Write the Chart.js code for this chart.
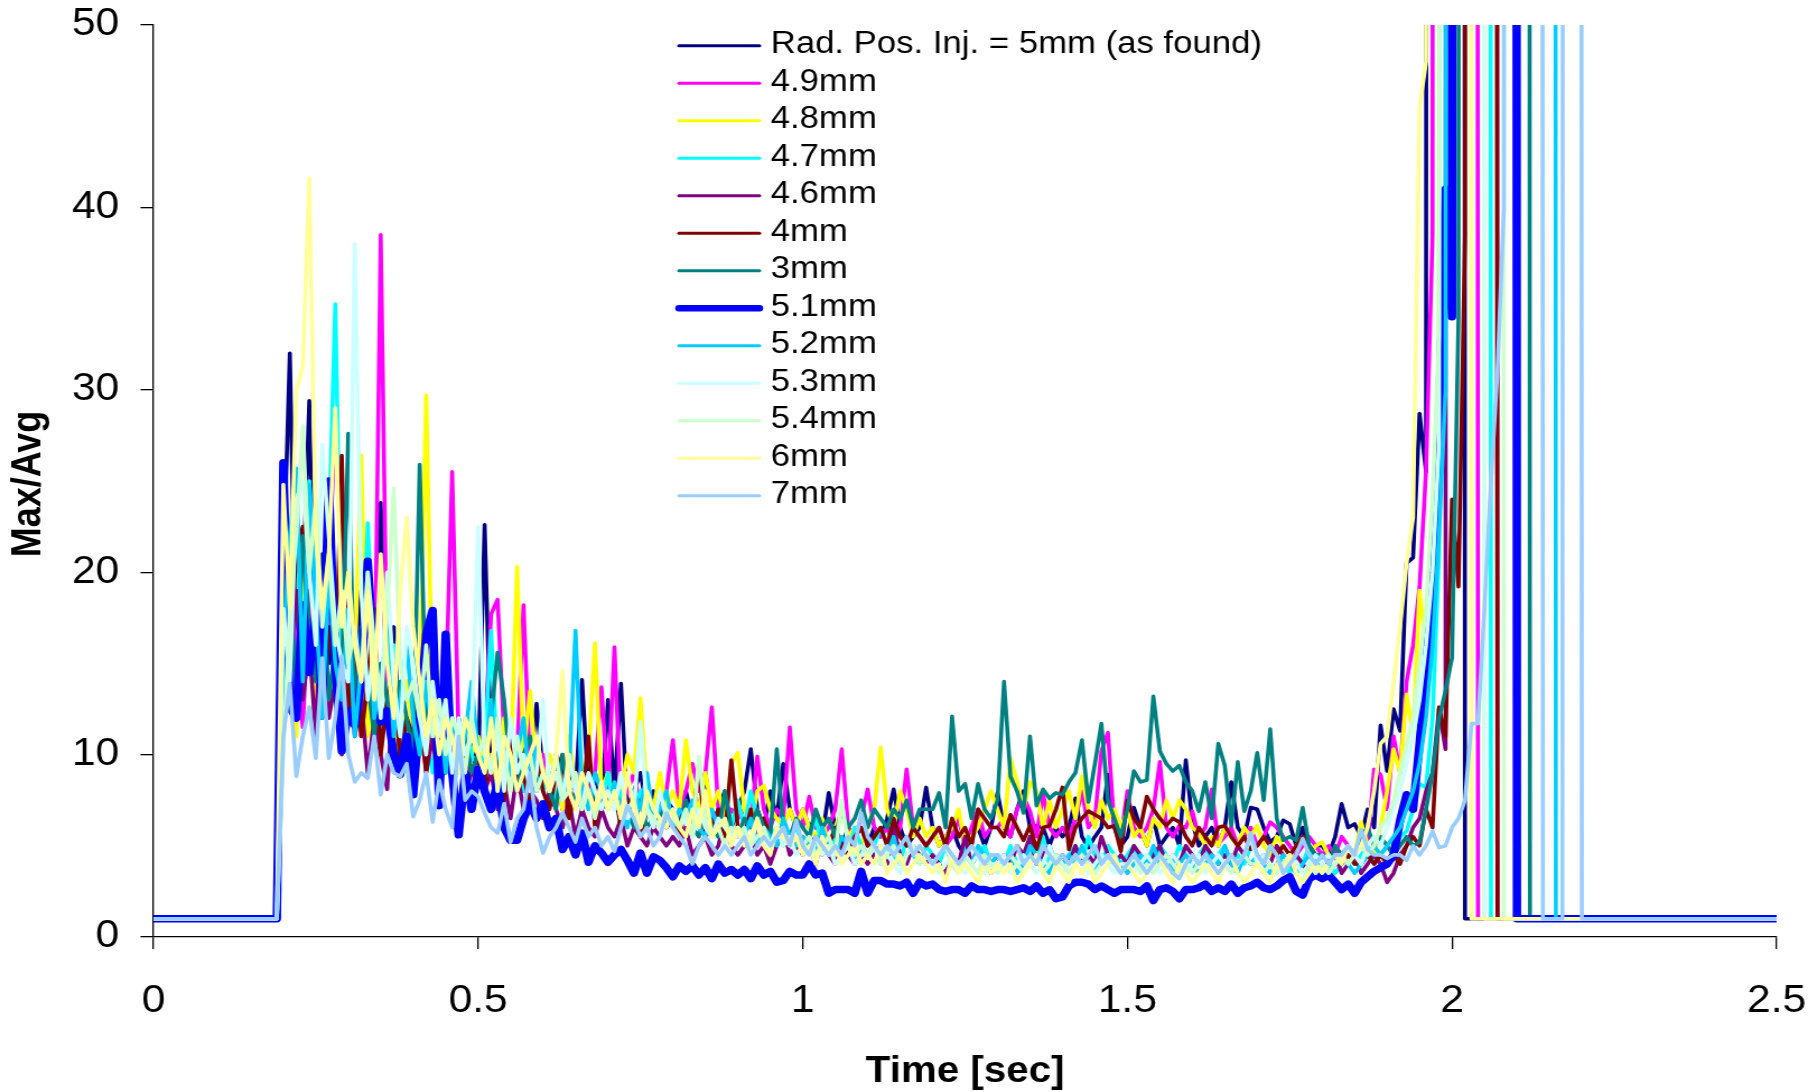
<!DOCTYPE html>
<html lang="en">
<head>
  <meta charset="UTF-8" />
  <title>Max/Avg vs Time</title>
  <script src="https://cdn.jsdelivr.net/npm/chart.js"></script>
  <style>
    html, body { margin: 0; padding: 0; background: #fff; overflow: hidden; }
    /* drawn narrow, then widened the way the exported sheet chart was */
    #wrap {
      width: 1623px;
      height: 1092px;
      transform: scaleX(1.1202);
      transform-origin: 0 0;
    }
  </style>
</head>
<body>
  <div id="wrap"><canvas id="chart" width="1623" height="1092"></canvas></div>

  <script>
    // samples start at 0.20 s, one every 0.01 s; before and after the run the ratio sits at 1
    const START = 0.2;
    const STEP = 0.01;
    const BASE = 1;
    const OFF = 1000; // far above the 50 ceiling

    const xTicks = { min: 0, max: 2.5, step: 0.5 };
    const yTicks = { min: 0, max: 50, step: 10 };
    const xTitle = 'Time [sec]';
    const yTitle = 'Max/Avg';

    const seriesLabels = [
      'Rad. Pos. Inj. = 5mm (as found)', '4.9mm', '4.8mm', '4.7mm', '4.6mm', '4mm', '3mm',
      '5.1mm', '5.2mm', '5.3mm', '5.4mm', '6mm', '7mm'
    ];

    const asFound = [
      20, 32, 14, 19, 29.4, 13, 21, 15, 18, 13,
      16, 14, 19, 12, 15, 23.8, 13, 17, 11, 14,
      12, 15, 11, 17, 10, 13, 9, 12, 10, 11,
      9, 22.6, 10, 8, 11, 9, 10, 8, 9, 12.8,
      9, 8, 10, 7, 9, 8, 14.1, 8, 9, 7,
      13, 8, 13.9, 7, 8, 9, 7, 8, 6.5, 7.5,
      7, 6, 8, 6.5, 7, 9, 6, 7, 8, 6,
      7, 8, 10.3, 7, 6, 8, 6.5, 9.5, 7, 6,
      7, 6, 6.5, 5.5, 7.9, 6, 5, 6, 5.5, 6,
      5, 6, 5.5, 6.5, 8.1, 6, 5, 5.5, 6, 8.2,
      6, 5, 5.5, 6, 5, 4.5, 5.5, 6, 5, 6,
      7.9, 6, 5.5, 7, 8, 6, 6.1, 6, 5, 6,
      5.5, 6, 7.6, 5.5, 4.9, 5.5, 6, 8.9, 6, 5,
      5.5, 7.1, 6, 5, 6.5, 5, 5.5, 6, 5, 9.7,
      6.3, 5, 5.5, 6, 5, 6, 8.5, 6, 5.5, 7.1,
      7, 6, 5.2, 5.5, 6.4, 6.2, 5, 6, 4.5, 5,
      5, 4.5, 5.5, 7.3, 6, 6.2, 5.5, 7, 6, 11.6,
      9.1, 12.5, 11.3, 20.5, 20.8, 28.7, 25.5, OFF, OFF, OFF,
      OFF, OFF, 1
    ];

    const mm4_9 = [
      14, 22.5, 15, 11.5, 19, 14, 12, 20, 28.3, 22,
      13, 17, 11, 15, 12, 38.5, 14, 11, 13, 10,
      12, 10, 14, 11, 9, 13, 25.5, 11, 9, 10,
      9, 11, 17.7, 18.5, 11, 9, 10, 18.2, 9, 8,
      10, 8, 9, 7, 8, 9, 7.5, 8, 9, 13.7,
      8, 15.9, 7, 8, 9, 7, 8, 6.5, 7, 8,
      10.8, 7, 8, 9.5, 8, 9, 12.6, 7, 6.5, 7,
      6.5, 7, 6, 9.9, 7, 6, 7, 6.5, 11.5, 7,
      6, 7.7, 6, 5.5, 6, 7, 10.3, 6, 5.5, 6.5,
      8.1, 6, 5.5, 6, 5, 6, 9.2, 6, 5.5, 5,
      5.5, 6, 5, 5.5, 6.5, 5, 6, 7, 5.5, 6,
      6, 6.5, 5.5, 7, 7.7, 6.9, 5.5, 7.9, 6, 5.5,
      6, 5.5, 6.5, 8, 6, 6.5, 10.2, 11.2, 6, 5.5,
      8, 6, 5.5, 6, 7, 9.6, 6, 5.5, 6.1, 6,
      6.9, 5.5, 6, 8.1, 5.1, 5.5, 6, 5, 5.5, 6,
      5, 5.5, 6.3, 6, 5.5, 5, 4.5, 5, 5.5, 5,
      4.5, 5, 4.5, 5.5, 5, 4.5, 6, 5, 9.2, 8.9,
      7, 11, 9, 14, 16, 19.2, 25.6, 38.5, OFF, OFF,
      OFF, OFF, OFF, OFF, 1
    ];

    const mm4_8 = [
      17, 14, 11, 20, 16, 13, 18, 12, 15, 14,
      12, 15, 26.4, 11, 14, 10, 13, 12, 10, 14,
      11, 13, 29.7, 12, 10, 13, 11, 9, 12, 10,
      11, 9, 10, 8, 12, 9, 20.3, 10, 13.5, 9,
      8, 10, 9, 7, 11, 8, 9, 10, 16.1, 8,
      9, 7, 8, 10, 9, 13.1, 8, 7, 9, 7,
      8, 7, 10.8, 8, 7, 9, 7, 8, 6.5, 9.5,
      10.1, 7, 6, 8, 8.3, 7, 6.5, 6, 7, 6,
      7, 6, 5.5, 6.5, 5, 6, 7, 5.5, 6, 5,
      6, 7, 10.4, 7, 6, 8, 7, 5.5, 6.5, 5.5,
      6, 5, 5.5, 6, 7, 5, 5.5, 6, 7, 8,
      7, 6, 9.8, 8.5, 7, 8.5, 8, 6, 7.5, 6,
      7, 8, 6.5, 8.8, 7, 6, 7.5, 6.5, 7, 6,
      7, 5.5, 6, 5, 6.5, 6, 7.5, 6.5, 7.5, 7,
      6, 5.7, 5, 5.5, 5, 6, 5.5, 5, 6, 5.5,
      6.1, 5, 4.5, 5.5, 5, 4.5, 5, 5.5, 4.5, 5,
      5.2, 4.5, 4, 4.5, 4, 4.5, 6.3, 5, 4.5, 6,
      8, 10.3, 9, 13.3, 11, 19, 15.7, 22, 32, OFF,
      OFF, OFF, OFF, OFF, OFF, 1
    ];

    const mm4_7 = [
      13, 18, 22, 15, 25, 18, 16, 22, 34.7, 16,
      12, 15, 13, 22.7, 14, 11, 13, 16, 11, 12,
      10, 13, 11, 9, 12, 10, 11, 9, 12, 10,
      9, 10, 16.8, 9, 8, 11, 9, 8, 10, 9,
      8, 9, 7.5, 8, 10, 8, 7, 9, 8, 7,
      9, 7, 8, 6.5, 7, 8, 7.5, 6, 7, 6.5,
      7, 6, 6.5, 7, 6, 7.5, 6, 5.5, 6.5, 6,
      7.5, 6, 8, 6.5, 6, 5.5, 6, 5, 5.5, 6,
      5, 5.5, 6.5, 5, 4.5, 5.5, 5, 4.5, 6, 5,
      4.5, 5, 6, 5, 4.5, 4, 5.5, 4.5, 4, 5,
      4.5, 4, 5, 4.5, 4, 5, 4, 4.5, 5, 4,
      4.5, 4, 5, 4, 4.5, 5, 4, 5.5, 4, 4.5,
      4, 4.5, 5, 4, 5.5, 4.5, 4, 5, 4.5, 4,
      4.5, 5, 4, 4.5, 4, 5, 4.5, 4, 5, 4.5,
      4, 4.5, 5, 4, 4.5, 5, 4, 4.5, 4, 5,
      4.5, 4, 5, 4.5, 4, 3.5, 4.5, 4, 5, 4,
      4.5, 4, 3.5, 4, 4.5, 4, 4.5, 5, 4, 4.5,
      5, 4.5, 5.5, 5.8, 7, 8.4, 8.2, 12, 21, OFF,
      OFF, OFF, OFF, OFF, OFF, OFF, 1
    ];

    const mm4_6 = [
      12, 15, 19, 13, 16, 11, 20, 12, 14, 10,
      15, 11, 13, 9, 12, 10, 8.1, 14, 10, 11,
      10, 12, 9, 11, 8, 10, 9, 11, 8, 9,
      10, 8, 9, 7, 8.5, 6.5, 9, 7, 8, 7.5,
      6.5, 8, 7, 6, 7.5, 5.5, 7, 6, 5.5, 7,
      6, 5.5, 6.5, 5, 6, 5.5, 5, 6, 5.5, 5,
      5.5, 5, 6, 4.5, 5, 5.5, 4.5, 5, 6.5, 5,
      4.5, 5, 5.5, 4.5, 5, 4, 5, 6, 4.5, 5,
      4.5, 5, 4, 5.5, 4.5, 4, 5, 4.5, 4, 4.5,
      4, 4.5, 5, 4, 6, 4.5, 4, 5, 4.5, 4,
      4.5, 4, 3.5, 4.5, 4, 5.5, 4, 4.5, 4, 3.5,
      4, 4.5, 4, 5, 4.5, 5.5, 4, 4.5, 5, 4,
      4.5, 4, 5, 4, 4.5, 4, 5.5, 4.5, 4, 4.5,
      4, 5, 4.5, 4, 4.5, 5, 4, 4.5, 4, 5,
      4.5, 4, 5, 4.5, 4, 4.5, 4, 5, 4.5, 4,
      4, 4.5, 4, 5, 4.5, 4, 4.5, 4, 3.5, 4,
      4.5, 4, 4.5, 3.5, 4, 4.5, 3.5, 4, 4.5, 4,
      3, 3.5, 4.5, 5, 6, 6.5, 8, 9, 12.5, 10.3,
      OFF, OFF, OFF, OFF, OFF, OFF, OFF, 1
    ];

    const mm4 = [
      11, 16, 21, 22.5, 15, 19, 12, 17, 14, 26.4,
      12, 16, 11, 14, 18, 10, 13, 15, 9.5, 12,
      11, 13, 9, 16, 10, 12, 8.5, 11, 10, 9,
      10, 8, 12, 9, 7.5, 11, 8, 9, 7, 10,
      8, 7, 9, 10, 6.5, 8, 7, 11, 6, 8,
      7, 8, 6, 7.5, 6.5, 5.5, 7, 6, 7.5, 6,
      6.5, 5.5, 7, 6, 9.5, 5.5, 6, 7, 5.5, 9.7,
      6, 5.5, 7, 5, 6.5, 5.5, 5, 6, 5.5, 5,
      5.5, 5, 5.5, 4.5, 5, 6, 5, 4.5, 5.5, 6,
      5, 5.5, 6, 5, 6.5, 5.5, 5, 6, 5.5, 5,
      5.5, 6, 5, 6.5, 5.5, 6, 5, 7, 6.5, 6,
      6, 5.5, 6.7, 6, 5.3, 6.1, 4.8, 6, 6.1, 7,
      8.2, 4.8, 6, 6.5, 6.9, 6.7, 6.5, 6, 6.1, 4.7,
      7.5, 6.5, 6, 7.7, 7, 6.5, 6.1, 6.5, 6.3, 5.5,
      5, 6, 5.5, 5, 6, 6.1, 5.5, 5, 5.5, 4.8,
      5, 5.5, 5, 4.5, 5, 4.5, 5, 5.5, 5, 4.5,
      4.5, 4, 4.5, 4, 4.5, 4, 4, 4.5, 4, 4.5,
      4, 4.5, 4, 5, 5.5, 5, 7, 6, 12.6, 11,
      24, 19.2, 38.4, OFF, OFF, OFF, OFF, 1
    ];

    const mm3 = [
      15, 20, 13, 22, 17, 14, 20, 13, 16, 14,
      27.6, 12, 17, 14, 11, 15, 13, 11, 14, 12,
      10, 25.9, 12, 11, 13, 9, 12, 10, 11, 9,
      10, 9, 12, 15.6, 13, 9, 8, 10, 11, 8,
      9, 8, 7, 10, 8, 7.5, 9, 7, 8, 7,
      7.5, 8, 6.5, 7, 6, 7.5, 6, 6.5, 7, 6,
      6.5, 6, 7.5, 6, 5.5, 7, 6, 5.5, 8, 6,
      5.5, 6.5, 6, 7, 6, 5.5, 10.3, 6, 5.5, 6.5,
      6, 5.5, 7, 6, 6.5, 5.5, 7, 6, 6.5, 7.5,
      6, 7, 6.5, 6, 7, 6.5, 7.5, 6, 7, 7,
      7, 7.9, 6, 12.1, 8, 8.4, 6.5, 8.4, 7, 6.5,
      7.5, 14, 8.8, 8, 6.8, 11, 7.2, 8.1, 7.6, 7.9,
      7.8, 8.5, 9, 10.8, 7.4, 9.5, 11.7, 7.5, 6.5, 5.5,
      7, 9.1, 8.5, 8.6, 13.2, 10.2, 9.5, 9.1, 9.4, 8.5,
      8, 6.9, 8.5, 6.5, 10.6, 9.4, 6.1, 9.6, 6.9, 8,
      10.1, 7.5, 11.4, 6.5, 5.3, 5.5, 5.3, 7.1, 5, 4.5,
      4.5, 4, 5, 4.5, 5, 4.5, 5.5, 6, 5, 5.5,
      5, 4.5, 5, 5.5, 5, 5.2, 7, 9, 12, 13.5,
      15.3, 34, OFF, OFF, OFF, OFF, OFF, OFF, OFF, OFF,
      OFF, OFF, 1
    ];

    const mm5_1 = [
      26, 12.6, 12, 18.2, 14.5, 17.8, 13, 25, 15, 10.2,
      12.4, 11.6, 14, 20.6, 15, 11.8, 12.4, 10, 8.9, 11,
      7.8, 12, 16.6, 17.9, 7.2, 16.6, 9, 5.6, 9, 7,
      9.2, 8, 7, 8.5, 6, 5.3, 5.3, 6.5, 7.3, 6.5,
      7.3, 6, 6.5, 4.8, 5.5, 4.5, 5.7, 4.1, 5, 4.6,
      4.1, 4.5, 4.8, 4.2, 3.5, 4.6, 3.5, 4.4, 4.2, 3.8,
      3.3, 3.9, 3.6, 3.9, 3.4, 3.8, 3.2, 4, 3.5, 3.7,
      3.4, 3.7, 3.2, 3.9, 3.4, 3.6, 3, 3.1, 3.6, 3.4,
      3.4, 4, 3.4, 3.5, 2.4, 2.6, 2.6, 2.6, 2.4, 3.6,
      2.4, 3.1, 3.1, 2.9, 2.9, 2.8, 3, 2.4, 3, 2.8,
      2.9, 2.6, 2.5, 2.6, 2.6, 2.4, 2.8, 2.6, 2.6, 2.5,
      2.6, 2.6, 2.5, 2.6, 2.7, 2.5, 2.8, 2.4, 2.6, 2.1,
      2.2, 2.8, 3, 3, 2.9, 2.6, 2.8, 2.6, 2.4, 2.6,
      2.6, 2.6, 2.5, 2.8, 2, 2.6, 2.7, 2.5, 2.1, 2.6,
      2.6, 2.7, 2.9, 2.5, 2.7, 2.5, 2.9, 2.4, 2.7, 2.8,
      3, 2.7, 2.6, 2.8, 3.1, 3.3, 2.5, 2.3, 3.2, 3.4,
      3.2, 3.4, 3, 2.6, 2.9, 2.4, 3, 3.3, 3.6, 3.8,
      4, 4.5, 6.4, 7.8, 7, 10.6, 14.6, 20, 28.4, 41,
      34, OFF, OFF, OFF, OFF, OFF, OFF, OFF, OFF, OFF,
      1
    ];

    const mm5_2 = [
      16, 22, 25.7, 14, 24.8, 18, 12, 20, 15, 13,
      18, 11, 15, 20, 12, 14, 17, 11, 13, 16,
      12, 10, 14, 11, 13, 9, 12, 10, 11, 14,
      10, 9, 13, 8, 11, 9, 10, 12, 8, 11,
      9, 8, 10, 7.5, 9, 16.8, 8, 7, 9, 8,
      7, 8.5, 7, 6, 8, 7, 9, 6.5, 7, 8,
      6, 7, 6.5, 7.5, 6, 5.5, 7, 6, 6.5, 5.5,
      6, 5.5, 6.5, 5, 6, 5.5, 5, 6.5, 5.5, 5,
      5.5, 5, 4.5, 6, 5, 4.5, 5.5, 5, 4, 5,
      4.5, 5, 4, 4.5, 5.5, 4, 4.5, 5, 4, 4.5,
      4, 4.5, 5, 4, 3.5, 4.5, 4, 5, 4.5, 4,
      4.5, 4, 4.5, 3.5, 4, 5, 4.5, 4, 3.5, 4.5,
      4, 4.5, 4, 5, 4, 3.5, 4.5, 4, 4.5, 4,
      3.5, 4, 4.5, 4, 5, 4, 4.5, 3.5, 4, 4.5,
      4, 3.5, 4, 4.5, 4, 5, 4, 3.5, 4.5, 4,
      4.5, 4, 3.5, 4, 4.5, 4, 3.5, 4, 4.5, 4,
      4, 3.5, 4, 4.5, 4, 3.5, 4, 4.5, 5, 4.5,
      5, 5.5, 6, 7, 8, 9.5, 12, 16, 22, 30,
      OFF, OFF, OFF, OFF, OFF, OFF, OFF, OFF, OFF, OFF,
      OFF, OFF, OFF, OFF, OFF, OFF, 1
    ];

    const mm5_3 = [
      18, 14, 24, 25, 20, 16, 27, 22, 17, 15,
      14, 38, 19, 13, 16, 12, 20, 14, 11, 17,
      15, 12, 10, 14, 11, 13, 9, 12, 10, 11,
      22.5, 10, 9, 11, 8, 12, 9, 10, 8, 9,
      13, 8, 9, 7.5, 10, 8, 7, 9, 8, 7,
      8, 7, 9, 6.5, 7, 11.8, 7, 6, 8, 6.5,
      7, 6, 6.5, 5.5, 7, 6, 5.5, 6.5, 6, 5.5,
      6, 5.5, 5, 6.5, 5.5, 5, 6, 5, 5.5, 4.5,
      5, 4.5, 5.5, 4.5, 5, 4, 4.5, 5, 4, 4.5,
      4.5, 4, 5, 4.5, 4, 3.5, 4.5, 5, 4, 4.5,
      4, 3.5, 4, 4.5, 4, 3.5, 4, 4.5, 3.5, 4,
      4, 4.5, 3.5, 4, 4.5, 4, 3.5, 4, 5, 4,
      3.5, 4, 4.5, 4, 3.5, 4, 4.5, 4, 3.5, 4,
      4, 3.5, 4, 4.5, 4, 3.5, 4, 4.5, 4, 3.5,
      4, 4.5, 3.5, 4, 4.5, 4, 3.5, 4, 4.5, 5.5,
      4, 4.5, 4, 3.5, 4, 4.5, 4, 3.5, 4, 4.5,
      4, 4.5, 4, 4.5, 5, 4.5, 4, 5, 5.5, 5,
      6, 7, 8, 9.5, 11, 13, 16, 20, 27, OFF,
      OFF, OFF, OFF, OFF, OFF, 1
    ];

    const mm5_4 = [
      10, 18, 22, 28, 20, 24, 17, 21, 16, 19,
      15, 17, 14, 20, 16, 13, 18, 24.6, 15, 13,
      14, 12, 16, 11, 13, 10, 12, 11, 9, 12,
      10, 11, 9, 12, 10, 8, 11, 9, 10, 8,
      9, 8, 10, 7.5, 8, 9, 7, 8, 6.5, 8,
      7, 8, 6.5, 7, 7.5, 6, 7, 6.5, 6, 7,
      6.5, 6, 7, 5.5, 9.9, 6.5, 5.5, 6, 5, 6,
      5.5, 6, 5, 5.5, 6, 5, 5.5, 6, 5, 5.5,
      5, 5.5, 4.5, 5, 5.5, 4.5, 7.5, 5, 4.5, 5,
      4.5, 5, 4, 4.5, 5, 4, 4.5, 5, 4, 4.5,
      4, 4.5, 5, 4, 3.5, 4.5, 4, 3.5, 4.5, 4,
      3.5, 4, 4.5, 4, 3.5, 4, 4.5, 3.5, 4, 4.5,
      4, 3.5, 4, 4.5, 4, 3.5, 4, 4.5, 4, 3.5,
      4, 4.5, 3.5, 4, 3.5, 4, 4.5, 4, 3.5, 4,
      3.5, 4, 4.5, 4, 3.5, 4, 3.5, 4, 4.5, 4,
      4, 3.5, 4, 3.5, 4, 4.5, 3.5, 3, 4, 3.5,
      4, 3.5, 4, 4.5, 4, 4.5, 5, 4.5, 5, 6,
      6.5, 7.5, 9, 10.5, 12.1, 15, 18, 24, 33, OFF,
      OFF, OFF, OFF, OFF, OFF, OFF, OFF, OFF, 1
    ];

    const mm6 = [
      24.8, 18, 30, 31.3, 41.6, 22, 18, 21, 29, 17,
      20, 16, 14, 19, 13, 21, 15, 12, 19, 23,
      17, 14, 11, 13, 10, 12, 11, 9, 12, 11,
      10, 9, 12, 8, 11, 10, 8, 9, 10, 11,
      9, 8, 10, 14.6, 8, 7, 9, 8, 7, 8.5,
      7, 8, 6.5, 9, 7, 6, 8, 7, 6.5, 6,
      7, 6, 5.5, 7, 6, 8, 5.5, 6, 6.5, 5,
      6, 5, 5.5, 6.5, 5, 4.5, 6, 5.5, 5, 5.5,
      4.5, 5, 4, 5.5, 4.5, 5, 4, 4.5, 5, 4,
      4.5, 4, 5, 3.5, 4, 4.5, 3.5, 4, 4.5, 4,
      3.5, 4, 3, 4.5, 3.5, 4, 3.5, 3, 4, 3.5,
      4, 3.5, 4, 3, 3.5, 4, 4.5, 3.5, 3, 4,
      3.5, 3, 4, 3.5, 4, 3, 3.5, 4, 4.5, 3.5,
      4, 3.5, 3, 3.5, 4, 4.5, 3.5, 3, 4, 3.5,
      3, 3.5, 4, 3.5, 3, 4, 4.5, 3.5, 3, 3.5,
      4, 3.5, 3, 4, 3.5, 4.5, 3.5, 3, 3.5, 4,
      3.5, 4, 4.5, 4, 5, 4.5, 5, 6, 8, 10.6,
      11, 14, 17, 20.5, 23, 45.5, 48, OFF, OFF, OFF,
      OFF, OFF, OFF, 1
    ];

    const mm7 = [
      11, 13.9, 8.8, 11, 12.6, 9.8, 15.3, 9.8, 12, 15.4,
      10, 8.5, 9, 8.7, 11, 7.8, 10, 9, 8.8, 9.5,
      6.6, 7.5, 9, 6.3, 8.6, 7, 6, 11, 7.5, 8,
      7.7, 6.8, 6, 5.7, 7.3, 5.2, 6.5, 7, 9, 6,
      4.6, 5.5, 6, 6.8, 6, 5.2, 6.5, 5.5, 6, 5,
      5.5, 4.7, 6, 7.2, 6.5, 5.5, 6, 5, 5.5, 6.8,
      6, 5.5, 5, 4, 5, 5.5, 5, 4.5, 5, 4.5,
      5, 5.5, 4.5, 5, 5.5, 5, 5.5, 6, 5, 6.4,
      5, 4.5, 5.5, 5, 4.5, 5, 4.5, 5.5, 5, 6.8,
      5.5, 5, 4.5, 5, 4.5, 5, 5.5, 4.5, 5, 4.5,
      4, 4.5, 5, 4.5, 4, 4.5, 5, 4.5, 4, 4.5,
      4.5, 4, 4.5, 5, 4, 4.5, 4, 5, 4.5, 4,
      4.5, 4, 4.5, 4, 4.5, 5, 4, 4.5, 4, 3.5,
      4, 4.5, 4, 3.5, 4, 4.5, 4, 3.5, 3.2, 4,
      4.5, 4, 4.5, 4, 3.5, 4, 4.5, 4, 4.5, 5.7,
      4.5, 4, 5, 4.5, 3.5, 4, 4.5, 5.4, 4.5, 4,
      4.5, 4, 4.5, 4.5, 5, 4.5, 5.9, 4.8, 4.5, 4.5,
      4.3, 4.5, 4.5, 4.2, 5, 4.5, 5, 5.8, 4.9, 5,
      6, 6.5, 7.5, 11.7, 11.7, 18, 25, 31, 40, OFF,
      OFF, OFF, OFF, OFF, 1, 1, 1, 1, OFF, OFF,
      1
    ];

    const seriesValues = [asFound, mm4_9, mm4_8, mm4_7, mm4_6, mm4, mm3, mm5_1, mm5_2, mm5_3, mm5_4, mm6, mm7];

    // line styles, one per series
    const seriesColors = [
      '#000080', '#FF00FF', '#FFFF00', '#00FFFF', '#800080', '#800000', '#008080',
      '#0000FF', '#00CCFF', '#CCFFFF', '#CCFFCC', '#FFFF99', '#99CCFF'
    ];
    const seriesWidths = [3.6, 3.6, 3.6, 3.6, 3.6, 3.6, 3.6, 7.5, 3.6, 3.6, 3.6, 3.6, 3.6];
    const legendWidths = [3, 3, 3, 3, 3, 3, 3, 6.5, 3, 3, 3, 3, 3];

    const FONT = '"Liberation Sans", Arial, Helvetica, sans-serif';

    function toPoints(values) {
      const pts = [{ x: 0, y: BASE }, { x: +(START - STEP).toFixed(2), y: BASE }];
      values.forEach((v, i) => pts.push({ x: +(START + i * STEP).toFixed(2), y: v }));
      pts.push({ x: xTicks.max, y: BASE });
      return pts;
    }

    const datasets = seriesLabels.map((label, i) => ({
      label: label,
      data: toPoints(seriesValues[i]),
      borderColor: seriesColors[i],
      borderWidth: seriesWidths[i],
      pointRadius: 0,
      tension: 0,
      fill: false,
      borderJoinStyle: 'round',
      borderCapStyle: 'round',
      order: -i   // later series painted on top
    }));

    // axis titles and the in-plot legend
    const overlay = {
      id: 'overlay',
      afterDraw(chart) {
        const ctx = chart.ctx;
        const area = chart.chartArea;
        ctx.save();
        ctx.fillStyle = '#000';
        ctx.textAlign = 'center';
        ctx.textBaseline = 'middle';
        ctx.font = 'bold 36px ' + FONT;
        ctx.fillText(xTitle, (area.left + area.right) / 2, 1072);
        ctx.save();
        ctx.translate(26, 484);
        ctx.rotate(-Math.PI / 2);
        ctx.fillText(yTitle, 0, 0);
        ctx.restore();

        ctx.font = '31px ' + FONT;
        ctx.textAlign = 'left';
        const x0 = 606, x1 = 678, tx = 688, y0 = 45.7, dy = 37.5;
        chart.data.datasets.forEach((ds, i) => {
          const y = y0 + i * dy;
          ctx.strokeStyle = ds.borderColor;
          ctx.lineWidth = legendWidths[i];
          ctx.lineCap = 'round';
          ctx.beginPath();
          ctx.moveTo(x0, y);
          ctx.lineTo(x1, y);
          ctx.stroke();
          ctx.fillStyle = '#000';
          ctx.fillText(ds.label, tx, y - 1);
        });
        ctx.restore();
      }
    };

    new Chart(document.getElementById('chart'), {
      type: 'line',
      data: { datasets: datasets },
      options: {
        responsive: false,
        devicePixelRatio: 1,
        animation: false,
        events: [],
        layout: { padding: { top: 25, right: 37, bottom: 0, left: 0 } },
        plugins: {
          legend: { display: false },
          tooltip: { enabled: false }
        },
        scales: {
          x: {
            type: 'linear',
            min: xTicks.min,
            max: xTicks.max,
            afterFit(scale) {
              scale.height = 155;
              scale.paddingLeft = 0;
              scale.paddingRight = 0;
            },
            ticks: {
              stepSize: xTicks.step,
              color: '#000',
              font: { family: FONT, size: 38 },
              padding: 30,
              maxRotation: 0,
              autoSkip: false,
              callback: (v) => String(+v.toFixed(1))
            },
            grid: { drawOnChartArea: false, drawTicks: true, tickLength: 12, color: '#000', lineWidth: 1.3 },
            border: { display: true, color: '#000', width: 1.3 }
          },
          y: {
            min: yTicks.min,
            max: yTicks.max,
            afterFit(scale) {
              scale.width = 137;
              scale.paddingTop = 0;
              scale.paddingBottom = 0;
            },
            ticks: {
              stepSize: yTicks.step,
              color: '#000',
              font: { family: FONT, size: 38 },
              padding: 19
            },
            grid: { drawOnChartArea: false, drawTicks: true, tickLength: 11.6, color: '#000', lineWidth: 1.3 },
            border: { display: true, color: '#000', width: 1.3 }
          }
        }
      },
      plugins: [overlay]
    });
  </script>
</body>
</html>
